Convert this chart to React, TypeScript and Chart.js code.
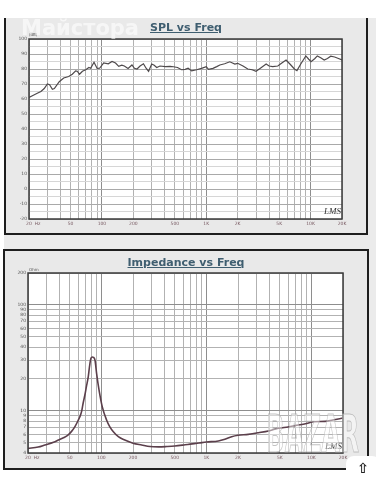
import React, { useEffect, useRef } from "react";
import { Chart, registerables } from "chart.js";

Chart.register(...registerables);

// ---------- data ----------
const SPL_FREQ = [20, 22, 24, 26, 28, 30, 31.5, 33.5, 35, 39, 43, 48, 52, 56, 58, 61, 65, 70, 75, 78, 84, 90, 95, 104, 115, 125, 135, 145, 155, 164, 178, 194, 205, 217, 232, 250, 265, 280, 300, 317, 335, 360, 405, 450, 485, 530, 580, 627, 670, 725, 808, 900, 1000, 1050, 1160, 1260, 1350, 1500, 1680, 1880, 2000, 2250, 2500, 2750, 3000, 3300, 3750, 4000, 4330, 4850, 5300, 5820, 6400, 7000, 7400, 8000, 9000, 9600, 10100, 11000, 11600, 12500, 13500, 14500, 15600, 17000, 18500, 20000];
const SPL_DB = [61, 62.5, 63.8, 65, 67, 70, 69.5, 66.5, 67, 71.5, 74, 75, 76.5, 78.8, 78.5, 76.5, 78.5, 79.5, 81, 80.5, 84.5, 80.4, 80.5, 84, 83.5, 85, 84, 81.8, 82.5, 82, 80.4, 82.7, 80.5, 80, 82, 83.5, 80.5, 78.5, 83.3, 82.5, 81, 82, 81.6, 81.8, 81.5, 81, 79.5, 79.8, 80.5, 78.7, 79.5, 80.4, 81.6, 79.8, 80.4, 81.6, 82.7, 83.5, 84.8, 83.3, 83.8, 82, 80, 79.5, 78.5, 80.5, 83.3, 82, 81.6, 82, 84, 86, 83, 80, 78.9, 83, 88.7, 86.5, 84.9, 87, 88.7, 87.5, 86, 87, 88.5, 88, 87, 86];

const IMP_FREQ = [20, 25, 29, 35, 39, 44, 48, 52, 56, 60, 62.4, 65, 67, 70, 72, 75, 77, 79.5, 82, 84, 87, 90, 95, 102, 112, 120, 130, 145, 167, 200, 242, 290, 350, 420, 500, 627, 700, 850, 1000, 1300, 1500, 1740, 2000, 2500, 3100, 4000, 4850, 6000, 7000, 9000, 10500, 13500, 16000, 20000];
const IMP_OHM = [4.42, 4.55, 4.76, 5.05, 5.3, 5.6, 5.9, 6.4, 7.1, 8.1, 8.8, 10, 11.8, 14.5, 16.9, 21, 26, 31.3, 32.2, 32, 30, 22.6, 15.7, 10.9, 8.2, 7.1, 6.35, 5.7, 5.3, 4.95, 4.76, 4.6, 4.57, 4.6, 4.65, 4.78, 4.85, 4.97, 5.08, 5.2, 5.4, 5.7, 5.88, 6.0, 6.2, 6.5, 6.85, 7.05, 7.25, 7.6, 7.9, 7.95, 8.2, 8.55];

const X_GRID = [20, 30, 40, 50, 60, 70, 80, 90, 100, 200, 300, 400, 500, 600, 700, 800, 900, 1000, 2000, 3000, 4000, 5000, 6000, 7000, 8000, 9000, 10000, 20000];
const X_DECADES = [100, 1000, 10000];
const X_LABELS: Record<number, string> = {
  20: "      20  Hz",
  50: "50",
  100: "100",
  200: "200",
  500: "500",
  1000: "1K",
  2000: "2K",
  5000: "5K",
  10000: "10K",
  20000: "20K",
};
const SPL_TICKS = [-20, -15, -10, -5, 0, 5, 10, 15, 20, 25, 30, 35, 40, 45, 50, 55, 60, 65, 70, 75, 80, 85, 90, 95, 100];
const IMP_TICKS = [4, 5, 6, 7, 8, 9, 10, 20, 30, 40, 50, 60, 70, 80, 90, 100, 200];

// ---------- styling ----------
const FONT = "'DejaVu Sans', sans-serif";
const TITLE_COLOR = "#3f5e70";

const plotFrame = {
  id: "plotFrame",
  beforeDraw(chart: any) {
    const { ctx, chartArea: a } = chart;
    ctx.save();
    ctx.fillStyle = "#ffffff";
    ctx.fillRect(a.left, a.top, a.right - a.left, a.bottom - a.top);
    ctx.restore();
  },
  afterDraw(chart: any) {
    const { ctx, chartArea: a } = chart;
    ctx.save();
    ctx.strokeStyle = "#3a3a3a";
    ctx.lineWidth = 1.5;
    ctx.strokeRect(a.left, a.top, a.right - a.left, a.bottom - a.top);
    ctx.restore();
  },
};

function xScale(height: number) {
  return {
    type: "logarithmic",
    min: 20,
    max: 20000,
    afterBuildTicks: (s: any) => {
      s.ticks = X_GRID.map((v) => ({ value: v }));
    },
    afterFit: (s: any) => {
      s.height = height;
    },
    ticks: {
      autoSkip: false,
      maxRotation: 0,
      minRotation: 0,
      padding: 2,
      color: "#7a5c64",
      font: { family: FONT, size: 4.5 },
      callback: (v: any) => X_LABELS[v] ?? "",
    },
    grid: {
      drawTicks: false,
      color: (c: any) => (X_DECADES.includes(c.tick?.value) ? "#8e8e8e" : "#b2b2b2"),
      lineWidth: 1,
    },
    border: { display: false },
  };
}

function makeSpl(canvas: HTMLCanvasElement) {
  return new Chart(canvas, {
    type: "line",
    data: {
      datasets: [
        {
          data: SPL_FREQ.map((f, i) => ({ x: f, y: SPL_DB[i] })),
          borderColor: "#4e494b",
          borderWidth: 1.2,
          pointRadius: 0,
          tension: 0,
          fill: false,
        },
      ],
    },
    options: {
      responsive: false,
      animation: false,
      devicePixelRatio: 1,
      layout: { padding: { left: 5, right: 34, top: 39, bottom: 9 } },
      plugins: { legend: { display: false }, tooltip: { enabled: false }, title: { display: false } },
      scales: {
        x: xScale(12) as any,
        y: {
          type: "linear",
          min: -20,
          max: 100,
          afterBuildTicks: (s: any) => {
            s.ticks = SPL_TICKS.map((v) => ({ value: v }));
          },
          afterFit: (s: any) => {
            s.width = 24;
          },
          ticks: {
            autoSkip: false,
            padding: 2,
            color: "#555555",
            font: { family: FONT, size: 4.5 },
            callback: (v: any) => (v % 10 === 0 ? String(v) : ""),
          },
          grid: {
            drawTicks: false,
            color: (c: any) => (c.tick?.value % 10 === 0 ? "#a9a9a9" : "#d6d6d6"),
            lineWidth: 1,
          },
          border: { display: false },
        } as any,
      },
    },
    plugins: [plotFrame],
  } as any);
}

function makeImp(canvas: HTMLCanvasElement) {
  return new Chart(canvas, {
    type: "line",
    data: {
      datasets: [
        {
          data: IMP_FREQ.map((f, i) => ({ x: f, y: IMP_OHM[i] })),
          borderColor: "#5b3f4b",
          borderWidth: 1.6,
          pointRadius: 0,
          cubicInterpolationMode: "monotone",
          fill: false,
        },
      ],
    },
    options: {
      responsive: false,
      animation: false,
      devicePixelRatio: 1,
      layout: { padding: { left: 4, right: 33, top: 33, bottom: 15 } },
      plugins: { legend: { display: false }, tooltip: { enabled: false }, title: { display: false } },
      scales: {
        x: xScale(12) as any,
        y: {
          type: "logarithmic",
          min: 4,
          max: 200,
          afterBuildTicks: (s: any) => {
            s.ticks = IMP_TICKS.map((v) => ({ value: v }));
          },
          afterFit: (s: any) => {
            s.width = 24;
          },
          ticks: {
            autoSkip: false,
            padding: 2,
            color: "#555555",
            font: { family: FONT, size: 4.5 },
            callback: (v: any) => String(v),
          },
          grid: {
            drawTicks: false,
            color: (c: any) => ([10, 100].includes(c.tick?.value) ? "#8e8e8e" : "#b2b2b2"),
            lineWidth: 1,
          },
          border: { display: false },
        } as any,
      },
    },
    plugins: [plotFrame],
  } as any);
}

const abs = (s: React.CSSProperties): React.CSSProperties => ({ position: "absolute", ...s });

export default function App() {
  const splRef = useRef<HTMLCanvasElement>(null);
  const impRef = useRef<HTMLCanvasElement>(null);

  useEffect(() => {
    const a = makeSpl(splRef.current!);
    const b = makeImp(impRef.current!);
    return () => {
      a.destroy();
      b.destroy();
    };
  }, []);

  const titleStyle: React.CSSProperties = {
    fontFamily: FONT,
    fontWeight: "bold",
    fontSize: 11,
    lineHeight: "13px",
    color: TITLE_COLOR,
    textDecoration: "underline",
    whiteSpace: "nowrap",
    transform: "translateX(-50%)",
  };

  return (
    <div style={abs({ left: 0, top: 0, width: 376, height: 480, overflow: "hidden", background: "#ffffff", fontFamily: FONT })}>
      {/* page background */}
      <div style={abs({ left: 4, top: 18, width: 372, height: 452, background: "#ebebeb" })} />
      {/* top panel */}
      <div
        style={abs({
          left: 4,
          top: 18,
          width: 364,
          height: 217,
          boxSizing: "border-box",
          background: "#e9e9e9",
          borderLeft: "2px solid #1e1e1e",
          borderRight: "2px solid #1e1e1e",
          borderBottom: "2px solid #1e1e1e",
        })}
      />
      {/* bottom panel */}
      <div
        style={abs({
          left: 3,
          top: 249,
          width: 366,
          height: 221,
          boxSizing: "border-box",
          background: "#e9e9e9",
          border: "2px solid #1e1e1e",
        })}
      />
      <div style={abs({ left: 0, top: 470, width: 376, height: 10, background: "#ffffff" })} />

      <div style={abs({ left: 0, top: 0, width: 376, height: 240 })}>
        <canvas ref={splRef} width={376} height={240} style={{ width: 376, height: 240 }} />
      </div>
      <div style={abs({ left: 0, top: 240, width: 376, height: 240 })}>
        <canvas ref={impRef} width={376} height={240} style={{ width: 376, height: 240 }} />
      </div>

      {/* titles */}
      <div style={abs({ left: 186, top: 21, ...titleStyle })}>SPL vs Freq</div>
      <div style={abs({ left: 186, top: 256, ...titleStyle })}>Impedance vs Freq</div>

      {/* unit labels */}
      <div style={abs({ left: 29, top: 32, fontSize: 4, lineHeight: "5px", color: "#555" })}>(dB)</div>
      <div style={abs({ left: 29, top: 267, fontSize: 4, lineHeight: "5px", color: "#555" })}>Ohm</div>

      {/* LMS logos */}
      <div style={abs({ left: 324, top: 206, fontSize: 9, lineHeight: "11px", fontStyle: "italic", color: "#333", fontFamily: "'Liberation Serif', serif" })}>LMS</div>
      <div style={abs({ left: 325, top: 441, fontSize: 9, lineHeight: "11px", fontStyle: "italic", color: "#333", fontFamily: "'Liberation Serif', serif" })}>LMS</div>

      {/* watermarks */}
      <div style={abs({ left: 21, top: 16, fontSize: 21, lineHeight: "24px", fontWeight: "bold", color: "rgba(255,255,255,0.6)" })}>Майстора</div>
      <div
        style={abs({
          left: 266,
          top: 404,
          fontSize: 52,
          lineHeight: "60px",
          fontWeight: "bold",
          color: "rgba(255,255,255,0.45)",
          WebkitTextStroke: "1px rgba(170,170,170,0.7)",
          transform: "scaleX(0.47)",
          transformOrigin: "left top",
          whiteSpace: "nowrap",
        } as any)}
      >
        BAZAR
      </div>
      <div style={abs({ left: 346, top: 456, width: 34, height: 30, borderRadius: 8, background: "#ffffff" })} />
      <div style={abs({ left: 357, top: 460, fontSize: 14, lineHeight: "16px", fontWeight: "bold", color: "#222" })}>⇧</div>
    </div>
  );
}
